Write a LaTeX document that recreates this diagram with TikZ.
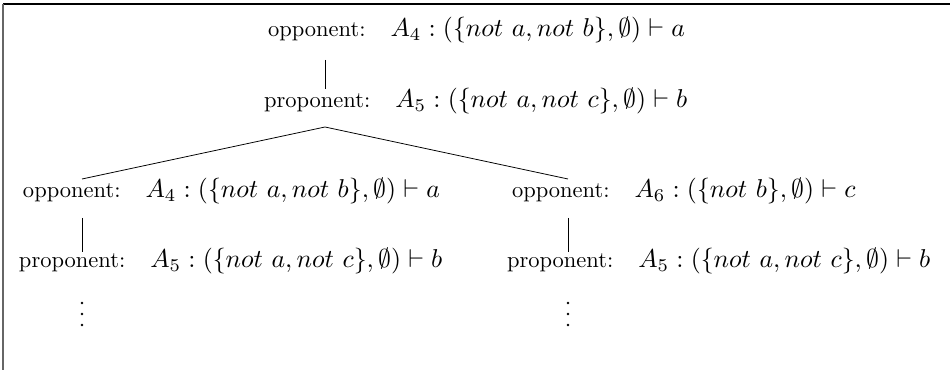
\documentclass[tikz,border=0pt]{standalone}
\usepackage{amssymb}
\usetikzlibrary{calc}
\begin{document}
\begin{tikzpicture}[x=0.5155pt,y=-0.5155pt,
  role/.style={anchor=base west,inner sep=0pt,outer sep=0pt,scale=1.16},
  form/.style={anchor=base west,inner sep=0pt,outer sep=0pt,scale=1.33},
  edge/.style={line width=0.4pt,black},
  vd/.style={circle,fill=black,inner sep=0pt,minimum size=1.4pt}]
\useasboundingbox (0,0) rectangle (950,370);
% frame
\draw[line width=0.8pt,black] (950,4) -- (3,4);
\draw[line width=0.9pt,black!60] (3,4) -- (3,370);
% nodes
\node[role] (o1) at (268,37) {opponent:};
\node[form] (o1f) at ($(o1.base east)+(25,0)$) {$A_4 : (\{not\ a, not\ b\}, \emptyset) \vdash a$};
\node[role] (p1) at (264,108) {proponent:};
\node[form] (p1f) at ($(p1.base east)+(25,0)$) {$A_5 : (\{not\ a, not\ c\}, \emptyset) \vdash b$};
\node[role] (o2) at (23,198) {opponent:};
\node[form] (o2f) at ($(o2.base east)+(25,0)$) {$A_4 : (\{not\ a, not\ b\}, \emptyset) \vdash a$};
\node[role] (p2) at (19,268) {proponent:};
\node[form] (p2f) at ($(p2.base east)+(25,0)$) {$A_5 : (\{not\ a, not\ c\}, \emptyset) \vdash b$};
\node[role] (o3) at (512,198) {opponent:};
\node[form] (o3f) at ($(o3.base east)+(25,0)$) {$A_6 : (\{not\ b\}, \emptyset) \vdash c$};
\node[role] (p3) at (507,268) {proponent:};
\node[form] (p3f) at ($(p3.base east)+(25,0)$) {$A_5 : (\{not\ a, not\ c\}, \emptyset) \vdash b$};
% connector points
\coordinate (o1s) at (325,60);
\coordinate (p1n) at (325,89);
\coordinate (p1s) at (325,127);
\coordinate (o2n) at (82,179);
\coordinate (o3n) at (568,179);
\coordinate (o2s) at (82,218);
\coordinate (p2n) at (82,252);
\coordinate (o3s) at (568,218);
\coordinate (p3n) at (568,252);
\draw[edge] (o1s) -- (p1n);
\draw[edge] (o2n) -- (p1s) -- (o3n);
\draw[edge] (o2s) -- (p2n);
\draw[edge] (o3s) -- (p3n);
% vertical dots
\foreach \y [count=\i] in {303,314,325} {
  \node[vd] (dl\i) at (82,\y) {};
  \node[vd] (dr\i) at (568,\y) {};
}
\end{tikzpicture}
\end{document}
